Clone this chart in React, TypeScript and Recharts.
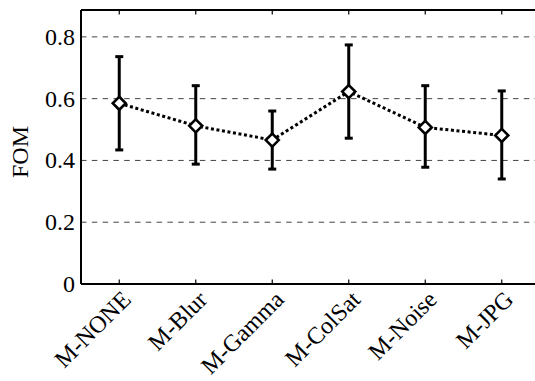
import React from 'react';
import { LineChart, Line, XAxis, YAxis, CartesianGrid, ErrorBar } from 'recharts';

const categories = ['M-NONE', 'M-Blur', 'M-Gamma', 'M-ColSat', 'M-Noise', 'M-JPG'];
const meanFOM = [0.585, 0.512, 0.466, 0.623, 0.507, 0.481];
const lowerFOM = [0.434, 0.388, 0.372, 0.472, 0.378, 0.34];
const upperFOM = [0.736, 0.642, 0.56, 0.774, 0.642, 0.625];
const yTicks = [0, 0.2, 0.4, 0.6, 0.8];
const xTicks = categories.map((_, i) => i + 1);

const data = categories.map((name, i) => ({
  x: i + 1,
  name,
  fom: meanFOM[i],
  err: [meanFOM[i] - lowerFOM[i], upperFOM[i] - meanFOM[i]],
}));

const FONT = 'Liberation Serif, Times New Roman, serif';

const Diamond = (props: any) => {
  const { cx, cy, index } = props;
  if (cx == null || cy == null) return null;
  const r = 6.5;
  return (
    <path
      key={`d-${index}`}
      d={`M${cx},${cy - r}L${cx + r},${cy}L${cx},${cy + r}L${cx - r},${cy}Z`}
      fill="#fff"
      stroke="#000"
      strokeWidth={2.6}
      strokeDasharray="none"
    />
  );
};

const renderBottomTick = (props: any) => {
  const { x, y, payload, index } = props;
  const tx = x + 13;
  const ty = y + 17;
  return (
    <g key={`bt-${index}`}>
      <line x1={x} x2={x} y1={y} y2={y - 4.5} stroke="#000" strokeWidth={1.2} />
      <g transform={`translate(${tx},${ty}) rotate(-45)`}>
        <text
          x={0}
          y={0}
          textAnchor="end"
          style={{ fontFamily: FONT, fontSize: 24 }}
          fill="#000"
        >
          {categories[payload.value - 1]}
        </text>
      </g>
    </g>
  );
};

const renderTopTick = (props: any) => {
  const { x, y, index } = props;
  return (
    <line key={`tt-${index}`} x1={x} x2={x} y1={y} y2={y + 4.5} stroke="#000" strokeWidth={1.2} />
  );
};

const renderLeftTick = (props: any) => {
  const { x, y, payload, index } = props;
  return (
    <text
      key={`lt-${index}`}
      x={x - 6}
      y={y + 8}
      textAnchor="end"
      style={{ fontFamily: FONT, fontSize: 24 }}
      fill="#000"
    >
      {payload.value === 0 ? '0' : Number(payload.value).toFixed(1)}
    </text>
  );
};

const FomLabel = (props: any) => {
  const vb = props.viewBox || {};
  const cx = 28;
  const cy = (vb.y ?? 10) + (vb.height ?? 274) / 2 + 5;
  return (
    <g transform={`translate(${cx},${cy}) rotate(-90)`}>
      <text
        x={0}
        y={0}
        textAnchor="middle"
        style={{ fontFamily: FONT, fontSize: 24 }}
        fill="#000"
      >
        FOM
      </text>
    </g>
  );
};

export default function App() {
  return (
    <div
      style={{
        position: 'fixed',
        left: 0,
        top: 0,
        width: 535,
        height: 381,
        overflow: 'hidden',
        background: '#fff',
      }}
    >
      <LineChart
        width={535}
        height={381}
        data={data}
        margin={{ top: 9, right: -5, bottom: 0, left: 0 }}
      >
        <CartesianGrid
          horizontal
          vertical={false}
          stroke="#444"
          strokeWidth={1}
          strokeDasharray="5.5 5.3"
          horizontalValues={[0.2, 0.4, 0.6, 0.8]}
        />
        <XAxis
          dataKey="x"
          type="number"
          domain={[0.5, 6.5]}
          ticks={xTicks}
          height={97}
          tickSize={0}
          tickMargin={0}
          tick={renderBottomTick}
          tickLine={false}
          axisLine={{ stroke: '#000', strokeWidth: 2 }}
          allowDataOverflow
          interval={0}
        />
        <XAxis
          xAxisId="top"
          orientation="top"
          dataKey="x"
          type="number"
          domain={[0.5, 6.5]}
          ticks={xTicks}
          height={1}
          tickSize={0}
          tickMargin={0}
          tick={renderTopTick}
          tickLine={false}
          axisLine={{ stroke: '#000', strokeWidth: 2 }}
          allowDataOverflow
          interval={0}
        />
        <YAxis
          type="number"
          domain={[0, 0.887]}
          ticks={yTicks}
          width={81}
          tickSize={0}
          tickMargin={0}
          tick={renderLeftTick}
          tickLine={false}
          axisLine={{ stroke: '#000', strokeWidth: 2 }}
          allowDataOverflow
          interval={0}
          label={<FomLabel />}
        />
        <Line
          type="linear"
          dataKey="fom"
          stroke="#000"
          strokeWidth={3}
          strokeDasharray="3 2.6"
          dot={<Diamond />}
          activeDot={false}
          isAnimationActive={false}
        >
          <ErrorBar
            dataKey="err"
            width={4}
            strokeWidth={3}
            stroke="#000"
            direction="y"
            isAnimationActive={false}
          />
        </Line>
      </LineChart>
    </div>
  );
}
